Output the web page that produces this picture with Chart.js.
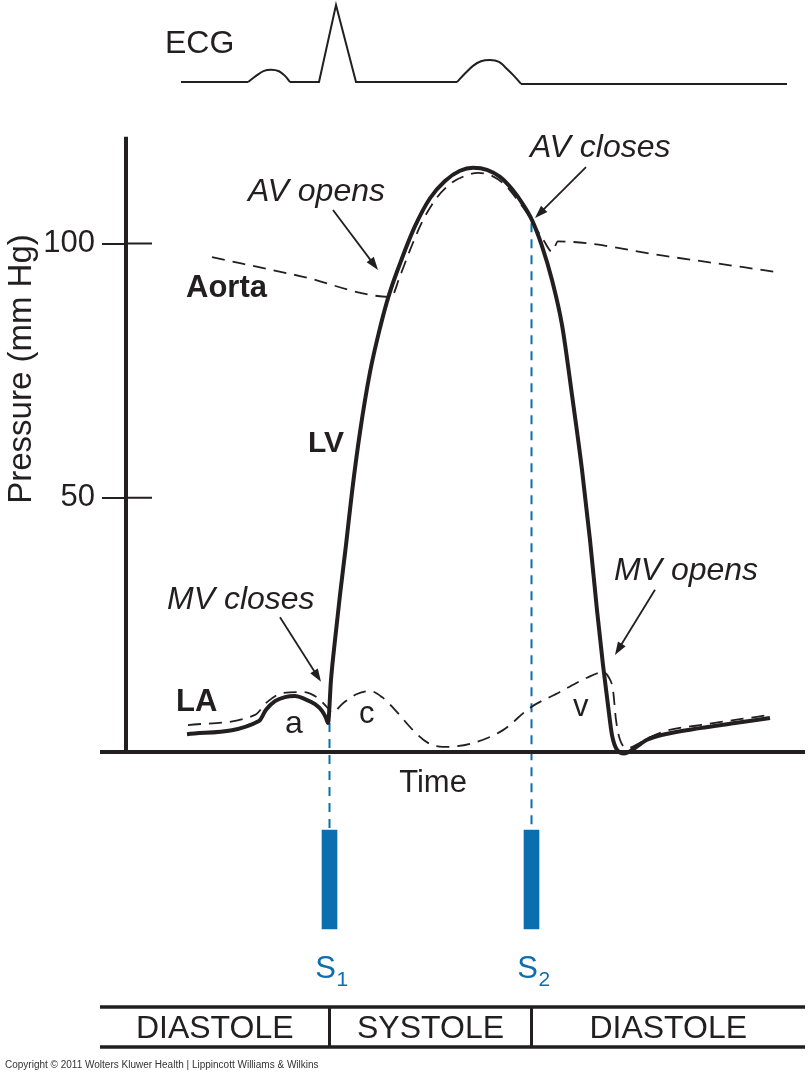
<!DOCTYPE html>
<html>
<head>
<meta charset="utf-8">
<script src="https://cdn.jsdelivr.net/npm/chart.js@4.4.1/dist/chart.umd.min.js"></script>
<style>
  html, body { margin: 0; padding: 0; background: #fff; }
  #wrap { width: 810px; height: 1075px; }
</style>
</head>
<body>
<div id="wrap"><canvas id="c" width="810" height="1075"></canvas></div>
<script>
// time: ms from the pressure axis, pressure: mm Hg
const lvTime = [61,133,140,149,159,169,179,189,196,200,202,205,209,214,220,226,234,244,254,263,276,289,304,319,334,347,361,374,386,396,406,416,426,436,446,456,464,471,477,482,486,491,498,509,521,539,574,609,644];
const lvPressure = [3.5,6.1,8.3,10.0,10.8,11.0,10.4,9.4,8.1,6.7,5.7,14.2,22.0,30.9,40.7,51.1,62.9,74.7,83.4,89.9,97.1,103.4,108.9,112.3,114.3,114.9,114.5,113.1,110.7,108.0,104.6,99.5,92.8,84.0,70.2,55.5,41.7,27.9,17.1,9.2,3.3,0.4,-0.3,0.8,2.4,3.5,4.7,5.7,6.7];

const aortaTime = [86,174,265,274,284,296,310,324,339,352,366,379,391,401,410,418,426,432,544,654];
const aortaPressure = [97.3,93.6,89.5,93.6,98.7,104.2,108.8,111.7,113.3,113.9,113.3,111.5,108.7,106.0,103.0,100.5,98.4,100.4,97.4,94.3];

const laTime = [62,129,141,157,177,192,201,206,217,231,244,256,269,287,302,317,344,377,404,434,461,477,483,487,490,494,502,514,524,539,574,609,644];
const laPressure = [5.3,7.3,9.8,11.6,11.8,10.6,8.8,7.7,9.6,11.4,12.0,10.8,8.3,4.3,1.8,1.0,1.6,4.3,8.7,11.8,14.6,15.7,14.6,12.2,6.3,2.4,0.8,1.8,2.9,4.1,5.3,6.3,7.3];

// ECG in mV (null = break, the rounded P and T waves are separate)
const ecgTime = [55,122,140,164,193,210,230,331,360,395,661];
const ecgMv = [0,0,null,0,0,1.0,0,0,null,-0.025,-0.025];
const pWaveTime = [122,130,138,145,153,159,164];
const pWaveMv = [0,0.08,0.145,0.16,0.14,0.08,0];
const tWaveTime = [331,339,347,355,364,373,381,388,395];
const tWaveMv = [0,0.11,0.21,0.27,0.285,0.26,0.17,0.08,-0.025];

// heart sounds S1 / S2
const soundTime = [203.5, 405.5];
const soundSub = ['1', '2'];
const guideTop = [5.7, 104.0];

const phaseNames = ['DIASTOLE', 'SYSTOLE', 'DIASTOLE'];
const phaseEdges = [-26, 203.5, 405.5, 679];

const yTicks = [50, 100];

const FONT = '"Liberation Sans", Arial, Helvetica, sans-serif';
const INK = '#231f20';
const BLUE = '#0b6faf';
const BAR_TOP = -15.34, BAR_BOTTOM = -34.81;

const pts = (xs, ys) => xs.map((x, i) => ({ x: x, y: ys[i] }));

const notes = [
  { text: 'ECG', t: 39, p: 137.5, font: '32px' },
  { text: 'AV opens', t: 122, p: 108.4, font: 'italic 32px' },
  { text: 'AV closes', t: 404, p: 117.0, font: 'italic 32px' },
  { text: 'Aorta', t: 60, p: 89.5, font: 'bold 31px' },
  { text: 'LV', t: 182, p: 59.0, font: 'bold 30px' },
  { text: 'MV closes', t: 41, p: 28.1, font: 'italic 32px' },
  { text: 'MV opens', t: 488, p: 33.8, font: 'italic 32px' },
  { text: 'LA', t: 50, p: 8.1, font: 'bold 31px' },
  { text: 'a', t: 159, p: 3.7, font: '32px' },
  { text: 'c', t: 233, p: 5.7, font: '31px' },
  { text: 'v', t: 447, p: 7.1, font: '31px' }
];

const arrows = [
  { from: [207, 106.6], to: [252, 94.8] },
  { from: [460, 115.0], to: [409, 105.0] },
  { from: [154, 26.5], to: [195, 13.8] },
  { from: [529, 31.9], to: [489, 19.1] }
];

// everything that is not a data line: axes, texts, arrows, phase strip
const drawExtras = {
  id: 'drawExtras',
  afterDatasetsDraw(chart) {
    const ctx = chart.ctx;
    const xs = chart.scales.x, ys = chart.scales.y;
    const px = t => xs.getPixelForValue(t);
    const py = v => ys.getPixelForValue(v);
    ctx.save();
    ctx.strokeStyle = INK;
    ctx.fillStyle = INK;
    ctx.lineCap = 'butt';

    // axes
    ctx.lineWidth = 4;
    ctx.beginPath();
    ctx.moveTo(px(0), py(121));
    ctx.lineTo(px(0), py(0) + 2);
    ctx.moveTo(px(-26), py(0));
    ctx.lineTo(px(679), py(0));
    ctx.stroke();
    ctx.lineWidth = 2;
    yTicks.forEach(v => {
      ctx.beginPath();
      ctx.moveTo(px(0), py(v));
      ctx.lineTo(px(26), py(v));
      ctx.stroke();
    });

    // axis titles
    ctx.save();
    ctx.font = '33px ' + FONT;
    ctx.textAlign = 'center';
    ctx.textBaseline = 'alphabetic';
    ctx.translate(31, 369);
    ctx.rotate(-Math.PI / 2);
    ctx.fillText('Pressure (mm Hg)', 0, 0);
    ctx.restore();

    ctx.textBaseline = 'alphabetic';
    ctx.font = '31px ' + FONT;
    ctx.textAlign = 'center';
    ctx.fillText('Time', px(307), py(-7.87));

    // labels
    ctx.textAlign = 'left';
    notes.forEach(n => {
      ctx.font = n.font + ' ' + FONT;
      ctx.fillText(n.text, px(n.t), py(n.p));
    });

    // arrows
    arrows.forEach(a => {
      const x1 = px(a.from[0]), y1 = py(a.from[1]);
      const x2 = px(a.to[0]), y2 = py(a.to[1]);
      const ang = Math.atan2(y2 - y1, x2 - x1);
      const head = 13, half = 4.5;
      ctx.lineWidth = 1.8;
      ctx.beginPath();
      ctx.moveTo(x1, y1);
      ctx.lineTo(x2 - Math.cos(ang) * head * 0.8, y2 - Math.sin(ang) * head * 0.8);
      ctx.stroke();
      ctx.beginPath();
      ctx.moveTo(x2, y2);
      ctx.lineTo(x2 - Math.cos(ang) * head - Math.sin(ang) * half, y2 - Math.sin(ang) * head + Math.cos(ang) * half);
      ctx.lineTo(x2 - Math.cos(ang) * head + Math.sin(ang) * half, y2 - Math.sin(ang) * head - Math.cos(ang) * half);
      ctx.closePath();
      ctx.fill();
    });

    // S1 / S2 labels
    ctx.fillStyle = BLUE;
    soundTime.forEach((t, i) => {
      ctx.font = '31px ' + FONT;
      ctx.textAlign = 'center';
      ctx.fillText('S', px(t) - 4, py(-44.44));
      ctx.font = '21px ' + FONT;
      ctx.textAlign = 'left';
      ctx.fillText(soundSub[i], px(t) + 7, py(-46.02));
    });

    // phase strip
    ctx.fillStyle = INK;
    ctx.lineWidth = 3.5;
    ctx.beginPath();
    [-50.15, -58.01].forEach(v => {
      ctx.moveTo(px(phaseEdges[0]), py(v));
      ctx.lineTo(px(phaseEdges[phaseEdges.length - 1]), py(v));
    });
    ctx.stroke();
    ctx.lineWidth = 3;
    ctx.beginPath();
    phaseEdges.slice(1, -1).forEach(t => {
      ctx.moveTo(px(t), py(-50.15));
      ctx.lineTo(px(t), py(-58.01));
    });
    ctx.stroke();
    ctx.font = '32px ' + FONT;
    ctx.textAlign = 'center';
    phaseNames.forEach((name, i) => {
      ctx.fillText(name, (px(phaseEdges[i]) + px(phaseEdges[i + 1])) / 2, py(-56.24));
    });

    // footer
    ctx.font = '10px ' + FONT;
    ctx.textAlign = 'left';
    ctx.fillStyle = '#333';
    ctx.fillText('Copyright \u00A9 2011 Wolters Kluwer Health | Lippincott Williams & Wilkins', 5, 1068);
    ctx.restore();
  }
};

const guides = soundTime.map((t, i) => ({
  type: 'line',
  label: 'S' + soundSub[i] + ' guide',
  data: [{ x: t, y: guideTop[i] }, { x: t, y: BAR_TOP }],
  borderColor: BLUE,
  borderWidth: 2,
  borderDash: [9, 7],
  pointRadius: 0
}));

new Chart(document.getElementById('c'), {
  type: 'line',
  data: {
    datasets: [
      {
        label: 'LV',
        data: pts(lvTime, lvPressure),
        borderColor: INK,
        borderWidth: 4,
        cubicInterpolationMode: 'monotone',
        pointRadius: 0
      },
      {
        label: 'LA',
        data: pts(laTime, laPressure),
        borderColor: INK,
        borderWidth: 1.8,
        borderDash: [13, 8],
        cubicInterpolationMode: 'monotone',
        pointRadius: 0
      },
      {
        label: 'Aorta',
        data: pts(aortaTime, aortaPressure),
        borderColor: INK,
        borderWidth: 1.8,
        borderDash: [13, 8],
        cubicInterpolationMode: 'monotone',
        pointRadius: 0
      },
      {
        label: 'ECG',
        yAxisID: 'ecg',
        data: pts(ecgTime, ecgMv),
        borderColor: INK,
        borderWidth: 2,
        tension: 0,
        pointRadius: 0
      },
      {
        label: 'ECG P / T waves',
        yAxisID: 'ecg',
        data: pts(pWaveTime, pWaveMv).concat([{ x: 250, y: null }], pts(tWaveTime, tWaveMv)),
        borderColor: INK,
        borderWidth: 2,
        cubicInterpolationMode: 'monotone',
        pointRadius: 0
      },
      ...guides,
      {
        type: 'bar',
        label: 'Heart sounds',
        data: soundTime.map(t => ({ x: t, y: [BAR_BOTTOM, BAR_TOP] })),
        backgroundColor: BLUE,
        borderWidth: 0,
        barThickness: 15
      }
    ]
  },
  options: {
    responsive: false,
    devicePixelRatio: 1,
    animation: false,
    layout: { padding: 0 },
    plugins: {
      legend: { display: false },
      tooltip: { enabled: false },
      title: { display: false }
    },
    scales: {
      x: { type: 'linear', min: 0, max: 684, display: false, offset: false },
      y: {
        type: 'linear',
        position: 'left',
        min: -63.52,
        max: 147.886,
        afterBuildTicks: s => { s.ticks = yTicks.map(v => ({ value: v })); },
        afterFit: s => { s.width = 126; s.paddingTop = 0; s.paddingBottom = 0; },
        ticks: { font: { family: FONT, size: 31 }, color: INK, padding: 7 },
        grid: { drawOnChartArea: false, drawTicks: true, tickLength: 24, color: INK, lineWidth: 2 },
        border: { display: false }
      },
      ecg: { type: 'linear', min: -12.896, max: 1.065, display: false }
    }
  },
  plugins: [drawExtras]
});
</script>
</body>
</html>
